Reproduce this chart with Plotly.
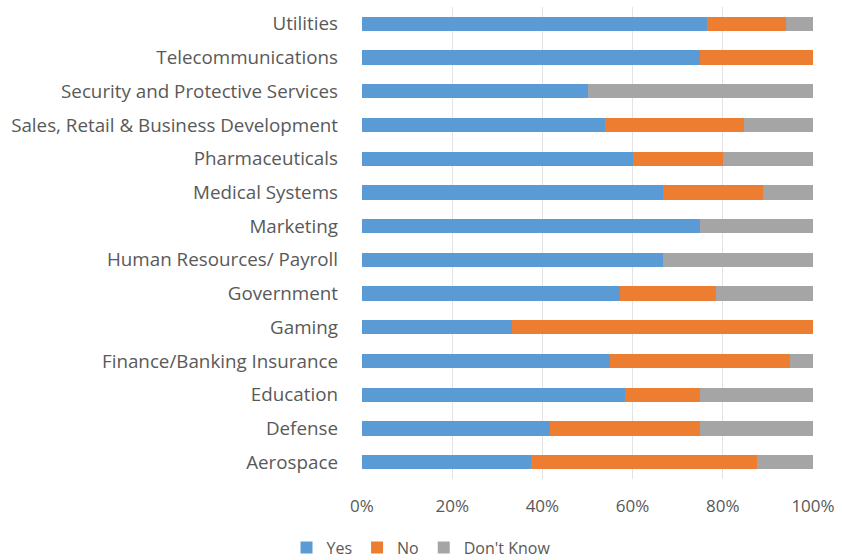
import plotly.graph_objects as go

# Industries, listed bottom to top
categories = [
    "Aerospace",
    "Defense",
    "Education",
    "Finance/Banking Insurance",
    "Gaming",
    "Government",
    "Human Resources/ Payroll",
    "Marketing",
    "Medical Systems",
    "Pharmaceuticals",
    "Sales, Retail & Business Development",
    "Security and Protective Services",
    "Telecommunications",
    "Utilities",
]

# Share of responses (%) per industry
yes_pct = [37.5, 41.7, 58.3, 55.0, 33.3, 57.1, 66.7, 75.0, 66.7, 60.0, 53.8, 50.0, 75.0, 76.5]
no_pct = [50.0, 33.3, 16.7, 40.0, 66.7, 21.4, 0.0, 0.0, 22.2, 20.0, 30.8, 0.0, 25.0, 17.6]
dont_know_pct = [12.5, 25.0, 25.0, 5.0, 0.0, 21.4, 33.3, 25.0, 11.1, 20.0, 15.4, 50.0, 0.0, 5.9]

x_ticks = [0, 20, 40, 60, 80, 100]
x_tick_labels = ["0%", "20%", "40%", "60%", "80%", "100%"]

series = [
    ("Yes", yes_pct, "#5B9BD5"),
    ("No", no_pct, "#ED7D31"),
    ("Don't Know", dont_know_pct, "#A5A5A5"),
]

fig = go.Figure()
for name, vals, color in series:
    fig.add_trace(go.Bar(
        y=categories,
        x=vals,
        name=name,
        orientation="h",
        marker=dict(color=color, line=dict(width=0)),
    ))

text_color = "#595959"
fig.update_layout(
    barmode="stack",
    bargap=0.58,
    width=842,
    height=560,
    margin=dict(l=362, r=26, t=7, b=81),
    paper_bgcolor="white",
    plot_bgcolor="white",
    font=dict(family="'Open Sans', Lato, sans-serif", size=17, color=text_color),
    showlegend=True,
    legend=dict(
        orientation="h",
        xref="container",
        yref="container",
        x=0.5,
        xanchor="center",
        y=0.022,
        yanchor="middle",
        font=dict(size=16, color=text_color),
        traceorder="normal",
        itemwidth=30,
    ),
    xaxis=dict(
        range=[0, 100],
        tickvals=x_ticks,
        ticktext=x_tick_labels,
        tickfont=dict(size=17),
        showgrid=True,
        gridcolor="#E3E3E3",
        gridwidth=1,
        zeroline=False,
        showline=False,
        ticks="",
        ticklabelstandoff=15,
        fixedrange=True,
    ),
    yaxis=dict(
        tickfont=dict(size=18.8),
        showgrid=False,
        zeroline=False,
        showline=False,
        ticks="",
        ticklabelstandoff=23,
        categoryorder="array",
        categoryarray=categories,
    ),
)

fig.write_html("out.html")
